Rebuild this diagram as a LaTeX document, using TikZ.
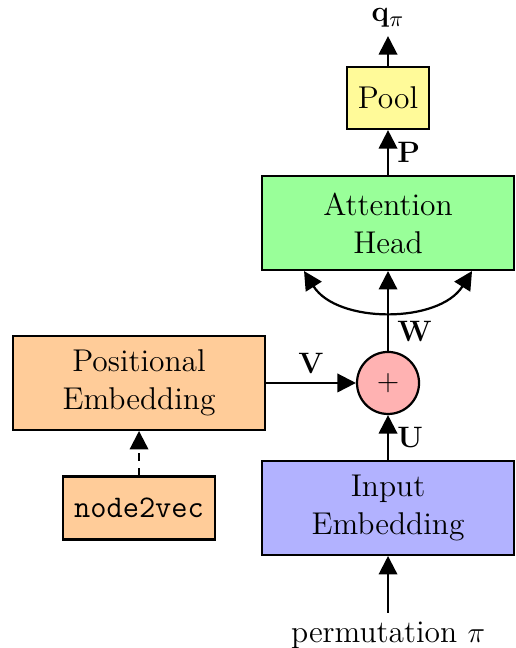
\documentclass[tikz,border=0pt]{standalone}
\usepackage{amsmath}
\usepackage{bm}
\usetikzlibrary{arrows.meta}

\tikzset{
	txt/.style={font=\fontsize{12.8}{15.5}\selectfont},
	blk/.style={rectangle,draw=black,line width=.9pt,minimum width=3.6cm,minimum height=1.34cm,align=center,txt},
	arr/.style={-{Triangle[length=7.5pt,width=7.5pt]},line width=.9pt}
}

\begin{document}
\begin{tikzpicture}
	\useasboundingbox (0,0) rectangle (7.371,9.257);

		\node[blk,fill=green!40] (att) at (5.543,6.071) {Attention\\Head};
	  \node[blk,fill=yellow!40,minimum width=1.17cm,minimum height=.886cm] (pool) at (5.543,7.857) {Pool};
	  \node[circle,draw=black,line width=.9pt,fill=red!30,minimum size=.886cm,inner sep=0pt,txt] (add) at (5.543,3.786) {$+$};
	  \node[blk,fill=orange!40] (pos) at (1.986,3.786) {Positional\\Embedding};
	  \node[blk,fill=blue!30] (inp) at (5.543,2) {Input\\Embedding};
	  \node[blk,fill=orange!40,minimum width=2.17cm,minimum height=.9cm] (n2v) at (1.986,2) {\texttt{node2vec}};

    % input and output
    \node[txt] (q) at (5.543,9.0) {$\mathbf{q}_\pi$};
	  \node[txt] (perm) at (5.543,.186) {permutation $\pi$};

		\draw[arr] (perm) -- (inp);
		\draw[arr] (inp) -- node[right,txt] {$\mathbf{U}$} (add);
		\draw[arr] (pos) -- node[above,txt] {$\mathbf{V}$} (add);
		\draw[arr,dashed] (n2v) -- (pos);
		\draw[arr] (add) -- node[pos=.25,right,txt] {$\mathbf{W}$} (att);
		\draw[arr] (att) -- node[right,txt] {$\mathbf{P}$} (pool);
		\draw[arr] (pool) -- (q);

    % heads
    \coordinate (hl) at ([xshift=-1.2cm]att.south);
	  \coordinate (hr) at ([xshift=1.2cm]att.south);
		\draw[{Triangle[length=7.5pt,width=7.5pt]}-{Triangle[length=7.5pt,width=7.5pt]},line width=.9pt] (hl) to[out=-58,in=-122,looseness=.95] (hr);

    \end{tikzpicture}
\end{document}
